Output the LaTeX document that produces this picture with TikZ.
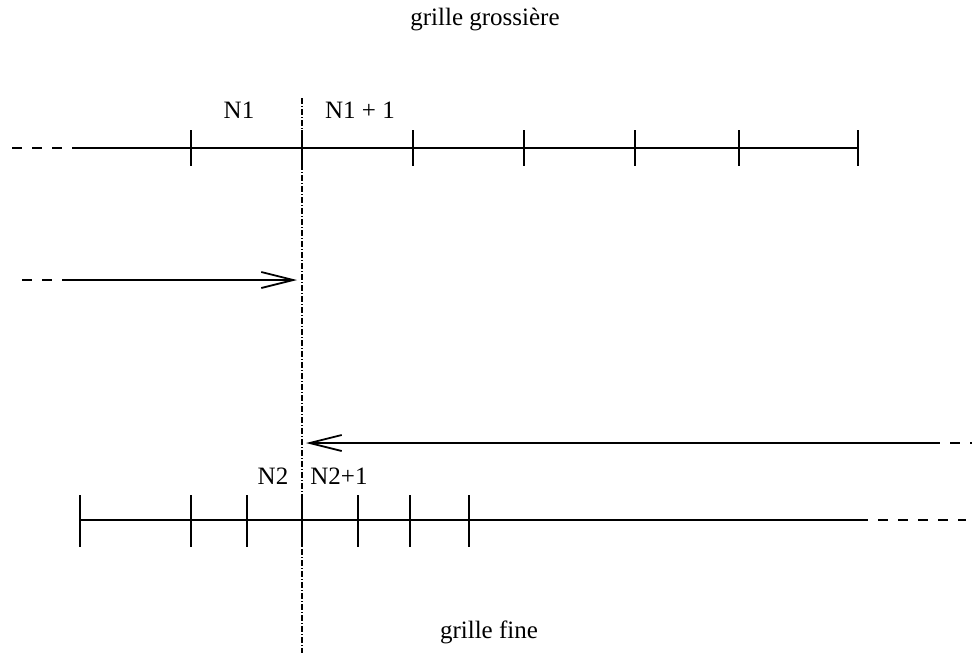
\documentclass[tikz,border=0pt]{standalone}
\usepackage{fontspec}
\setmainfont{Liberation Serif}
\usetikzlibrary{arrows.meta}
\begin{document}
\begin{tikzpicture}[x=1pt,y=-1pt,
  axis/.style={line width=1.8pt},
  dashpart/.style={line width=1.8pt, dash pattern=on 10pt off 10pt},
  tick/.style={line width=1.8pt},
  lab/.style={font=\fontsize{25}{28}\selectfont, inner sep=0pt},
  arr/.style={line width=1.8pt, -{Straight Barb[length=32pt,width=16pt,line width=1.8pt]}},
  cut/.style={line width=1.5pt, dash pattern=on 6pt off 2pt on 1pt off 2pt}]
\useasboundingbox (0,0) rectangle (972,653);
% labels
\node[lab] (tg) at (485,20) {grille grossière};
\node[lab] (tf) at (489,632) {grille fine};
\node[lab] (n1) at (239,110) {N1};
\node[lab] (n1p) at (360,110) {N1 + 1};
\node[lab] (n2) at (273,476) {N2};
\node[lab] (n2p) at (339,476) {N2+1};
% vertical cut
\coordinate (vt) at (302,98);
\coordinate (vb) at (302,653);
\draw[cut] (vt) -- (vb);
% coarse grid
\coordinate (c0) at (12,148);
\coordinate (c1) at (72,148);
\coordinate (c2) at (858,148);
\draw[dashpart] (c0) -- (c1);
\draw[axis] (c1) -- (c2);
\foreach \x in {191,302,413,524,635,739,858}
  \draw[tick] (\x,130) -- (\x,166);
% right arrow
\coordinate (a0) at (22,280);
\coordinate (a1) at (72,280);
\coordinate (a2) at (297,280);
\draw[dashpart] (a0) -- (a1);
\draw[arr] (a1) -- (a2);
% left arrow
\coordinate (b0) at (972,443);
\coordinate (b1) at (930,443);
\coordinate (b2) at (306,443);
\draw[dashpart] (b1) -- (b0);
\draw[arr] (b1) -- (b2);
% fine grid
\coordinate (f0) at (80,520);
\coordinate (f1) at (858,520);
\coordinate (f2) at (966,520);
\draw[axis] (f0) -- (f1);
\draw[dashpart] (f1) -- (f2);
\foreach \x in {80,191,247,302,358,410,469}
  \draw[tick] (\x,495) -- (\x,547);
\end{tikzpicture}
\end{document}
